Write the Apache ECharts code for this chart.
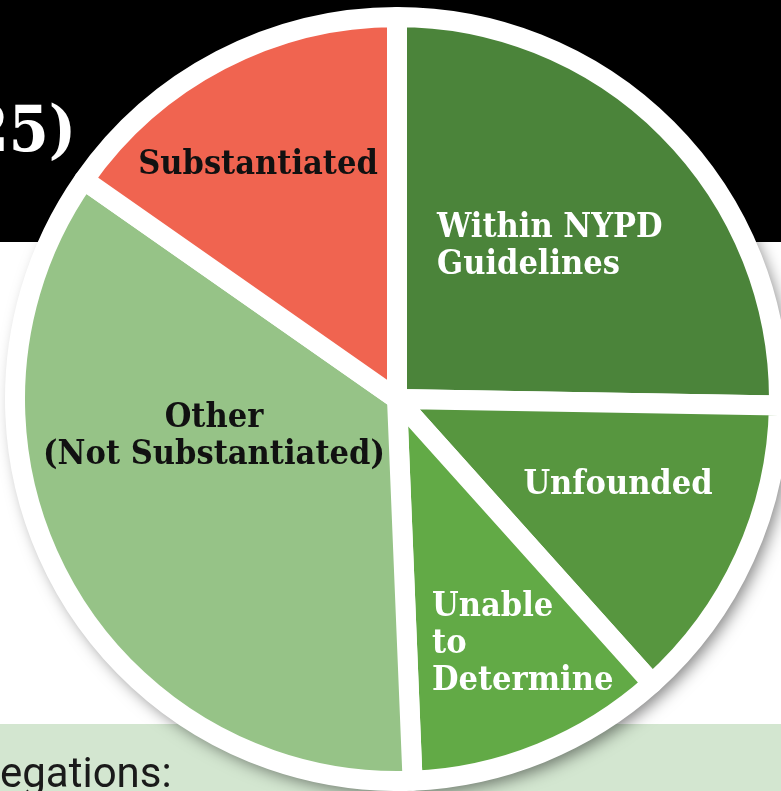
<!DOCTYPE html>
<html>
<head>
<meta charset="utf-8">
<script src="https://cdn.jsdelivr.net/npm/echarts@6/dist/echarts.min.js"></script>
<style>
  html, body { margin: 0; padding: 0; background: #fff; }
  #chart { width: 781px; height: 791px; }
</style>
</head>
<body>
<div id="chart"></div>
<script>
// shares of allegation outcomes (percent)
const categories = ['Within NYPD\nGuidelines', 'Unfounded', 'Unable\nto\nDetermine', 'Other\n(Not Substantiated)', 'Substantiated'];
const shares = [25.3, 13.1, 11.0, 35.4, 15.3];

const sliceColors = ['#4b843a', '#57963f', '#62aa46', '#96c387', '#f06450'];
const labelColors = ['#fff', '#fff', '#fff', '#111', '#111'];

// where each label sits (x, y, align)
const labelSpots = [
  [437, 247, 'left'],
  [618, 485, 'center'],
  [432, 644, 'left'],
  [214, 437, 'center'],
  [258, 165, 'center']
];

const CENTER = [397, 399];
const slabFont = "'DejaVu Serif Condensed', 'DejaVu Serif', serif";

const chart = echarts.init(document.getElementById('chart'), null, { renderer: 'canvas' });

chart.setOption({
  animation: false,
  graphic: [
    { type: 'rect', z: -10, shape: { x: 0, y: 0, width: 781, height: 242 }, style: { fill: '#000' } },
    { type: 'rect', z: -10, shape: { x: 0, y: 724, width: 781, height: 67 }, style: { fill: '#d3e6d0' } },
    {
      type: 'text', z: -9,
      style: { text: '25)', x: 76, y: 134, align: 'right', verticalAlign: 'middle',
               fill: '#fff', font: "bold 64px " + slabFont }
    },
    {
      type: 'text', z: -9,
      style: { text: 'egations:', x: 0, y: 776, align: 'left', verticalAlign: 'middle',
               fill: '#1a1a1a', font: "42px Roboto, sans-serif" }
    }
  ],
  series: [
    {
      // white backing disc with soft shadow
      type: 'pie',
      center: CENTER,
      radius: 389,
      silent: true,
      z: 1,
      label: { show: false },
      labelLine: { show: false },
      emphasis: { disabled: true },
      data: [{ value: 1 }],
      itemStyle: {
        color: '#fff',
        shadowBlur: 16,
        shadowOffsetX: 5,
        shadowOffsetY: 6,
        shadowColor: 'rgba(0,0,0,0.5)'
      }
    },
    {
      type: 'pie',
      center: CENTER,
      radius: 382,
      startAngle: 90,
      clockwise: true,
      z: 2,
      avoidLabelOverlap: false,
      emphasis: { disabled: true },
      itemStyle: { borderColor: '#fff', borderWidth: 20, borderJoin: 'round' },
      label: {
        show: true,
        position: 'inside',
        formatter: '{b}',
        fontFamily: slabFont,
        fontWeight: 'bold',
        fontSize: 34,
        lineHeight: 37
      },
      labelLine: { show: false },
      labelLayout: function (p) {
        const s = labelSpots[p.dataIndex];
        return { x: s[0], y: s[1], align: s[2], verticalAlign: 'middle' };
      },
      data: categories.map((name, i) => ({
        name,
        value: shares[i],
        itemStyle: { color: sliceColors[i] },
        label: { color: labelColors[i] }
      }))
    }
  ]
});
</script>
</body>
</html>
